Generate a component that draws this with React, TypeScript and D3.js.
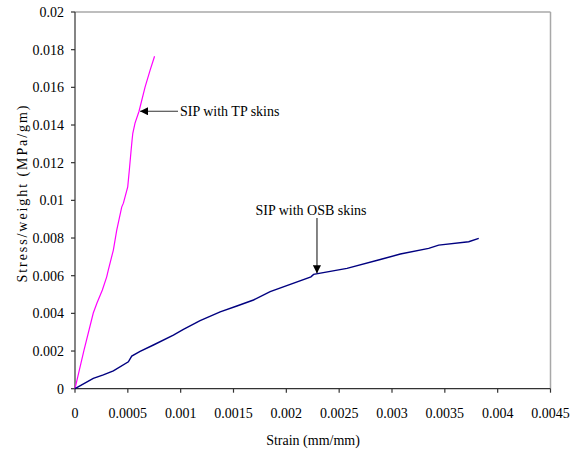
import React from "react";
import * as d3 from "d3";

const tpStrain = [0, 0.0000853, 0.000173, 0.000208, 0.000259, 0.0003, 0.000315, 0.000363, 0.000395, 0.000442, 0.000458, 0.000499, 0.000514, 0.000531, 0.00054, 0.000547, 0.000568, 0.000606, 0.000663, 0.000711, 0.000753];
const tpStress = [0, 0.00205, 0.00402, 0.00455, 0.00524, 0.00594, 0.0063, 0.00736, 0.00842, 0.00964, 0.00985, 0.01072, 0.0116, 0.01266, 0.01319, 0.01356, 0.0141, 0.01473, 0.01601, 0.01691, 0.01765];

const osbStrain = [0, 0.000173, 0.000268, 0.000363, 0.000505, 0.000537, 0.000616, 0.000742, 0.000931, 0.001026, 0.001184, 0.001374, 0.001532, 0.001689, 0.001847, 0.002233, 0.002258, 0.002574, 0.002889, 0.003079, 0.003347, 0.003442, 0.003726, 0.003821];
const osbStress = [0, 0.00055, 0.00073, 0.00095, 0.00143, 0.00173, 0.00198, 0.00232, 0.00285, 0.00315, 0.00361, 0.00408, 0.00439, 0.00471, 0.00515, 0.00594, 0.00607, 0.00639, 0.00686, 0.00715, 0.00745, 0.00762, 0.0078, 0.00798];

const xTicks = [0, 0.0005, 0.001, 0.0015, 0.002, 0.0025, 0.003, 0.0035, 0.004, 0.0045];
const xTickLabels = ["0", "0.0005", "0.001", "0.0015", "0.002", "0.0025", "0.003", "0.0035", "0.004", "0.0045"];
const yTicks = [0, 0.002, 0.004, 0.006, 0.008, 0.01, 0.012, 0.014, 0.016, 0.018, 0.02];
const yTickLabels = ["0", "0.002", "0.004", "0.006", "0.008", "0.01", "0.012", "0.014", "0.016", "0.018", "0.02"];

const W = 581, H = 453;
const L = 75, R = 550.5, T = 12, B = 388.7;
const FONT = "\"Liberation Serif\", \"DejaVu Serif\", serif";

export default function App() {
  const x = d3.scaleLinear().domain([0, 0.0045]).range([L, R]);
  const y = d3.scaleLinear().domain([0, 0.02]).range([B, T]);
  const line = d3.line<[number, number]>().x(d => x(d[0])).y(d => y(d[1]));
  const tp = tpStrain.map((s, i) => [s, tpStress[i]] as [number, number]);
  const osb = osbStrain.map((s, i) => [s, osbStress[i]] as [number, number]);

  const tpArrowY = y(0.01473);
  const tpArrowX = x(0.000606);
  const osbArrowX = x(0.00229);
  const osbArrowY = y(0.00607);
  const ts: React.CSSProperties = { fontFamily: FONT, fontSize: "14px" };

  return (
    <svg width={W} height={H} style={{ position: "absolute", left: 0, top: 0, background: "#fff", fontFamily: FONT }}>
      <defs>
        <marker id="ah" viewBox="0 0 10 10" refX="10" refY="5" markerWidth="8" markerHeight="8" markerUnits="userSpaceOnUse" orient="auto">
          <path d="M0,0 L10,5 L0,10 z" fill="#000" />
        </marker>
      </defs>
      <rect x={0} y={0} width={W} height={H} fill="#fff" />
      <line x1={L} x2={R} y1={T} y2={T} stroke="#a8a8a8" strokeWidth={1.5} />
      <line x1={R} x2={R} y1={T} y2={B} stroke="#a8a8a8" strokeWidth={1.5} />
      <line x1={L} x2={L} y1={T} y2={B} stroke="#333" strokeWidth={1.2} />
      <line x1={L} x2={R} y1={B} y2={B} stroke="#333" strokeWidth={1.2} />
      {yTicks.map((t, i) => (
        <g key={"y" + i}>
          <line x1={L - 4} x2={L} y1={y(t)} y2={y(t)} stroke="#333" strokeWidth={1.2} />
          <text x={L - 11} y={y(t)} dy="0.35em" textAnchor="end" style={ts} fill="#000">{yTickLabels[i]}</text>
        </g>
      ))}
      {xTicks.map((t, i) => (
        <g key={"x" + i}>
          <line x1={x(t)} x2={x(t)} y1={B} y2={B + 4} stroke="#333" strokeWidth={1.2} />
          <text x={x(t)} y={418} textAnchor="middle" style={ts} fill="#000">{xTickLabels[i]}</text>
        </g>
      ))}
      <text x={313} y={445} textAnchor="middle" style={ts} fill="#000">Strain (mm/mm)</text>
      <text transform={`translate(27,${194}) rotate(-90)`} textAnchor="middle" style={ts} fill="#000"
        textLength={177} lengthAdjust="spacing">Stress/weight (MPa/gm)</text>

      <path d={line(tp) || ""} fill="none" stroke="#ff00ff" strokeWidth={1.2} />
      <path d={line(osb) || ""} fill="none" stroke="#000080" strokeWidth={1.4} />

      <line x1={178} x2={tpArrowX + 1} y1={tpArrowY} y2={tpArrowY} stroke="#333" strokeWidth={1.2} markerEnd="url(#ah)" />
      <text x={180} y={tpArrowY + 5} style={ts} fill="#000">SIP with TP skins</text>
      <line x1={osbArrowX} x2={osbArrowX} y1={218} y2={osbArrowY - 1} stroke="#333" strokeWidth={1.2} markerEnd="url(#ah)" />
      <text x={311} y={215} textAnchor="middle" style={ts} fill="#000">SIP with OSB skins</text>
    </svg>
  );
}
